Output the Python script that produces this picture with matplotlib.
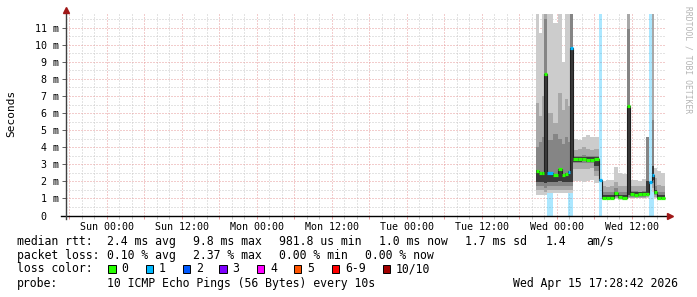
import numpy as np
import matplotlib
matplotlib.use("Agg")
import matplotlib.pyplot as plt
from matplotlib.patches import Rectangle

MONO = "DejaVu Sans Mono"

# bin edges, hours since Sun 00:00
edges = [68.67, 69.15, 69.63, 69.95, 70.35, 71.39, 72.19, 72.83, 73.31, 73.79,
         74.11, 74.51, 75.39, 76.03, 76.67, 77.31, 77.95, 78.75, 79.23, 79.87,
         80.51, 81.15, 81.79, 82.43, 83.23, 83.71, 84.35, 84.99, 85.63, 86.19,
         86.67, 87.15, 87.55, 88.03, 88.67, 89.31]

nan = np.nan
# smoke bands in ms (outer -> inner)
outer_lo = [1.2, 1.2, 1.2, 1.2, 1.3, 1.3, 1.3, 1.3, 1.3, 1.3, 1.3, 2.0, 2.0, 1.95, 2.0, 2.05, 1.9, nan,
            0.9, 0.9, 0.9, 0.95, 0.9, 0.9, 1.0, 1.0, 1.0, 1.0, 1.0, 1.0, nan, 1.4, 1.0, 0.9, 0.9]
outer_hi = [11.8, 10.7, 11.8, 11.8, 11.8, 11.3, 11.8, 9.0, 11.8, 11.8, 11.8, 4.5, 4.4, 4.6, 4.7, 4.6, 4.6, nan,
            2.0, 2.1, 2.05, 2.85, 2.5, 2.45, 11.8, 2.1, 2.05, 2.0, 2.15, 4.6, nan, 11.8, 2.8, 2.6, 2.5]
mid_lo = [1.5, 1.5, 1.5, 1.4, 1.5, 1.5, 1.5, 1.5, 1.5, 1.5, 1.5, 2.75, 2.75, 2.7, 2.75, 2.8, 2.3, nan,
          0.95, 0.95, 0.95, 1.0, 0.95, 0.95, 1.0, 1.05, 1.05, 1.05, 1.05, 1.1, nan, 1.6, 1.1, 0.95, 0.95]
mid_hi = [6.6, 5.8, 7.0, 11.8, 6.0, 5.4, 7.2, 6.2, 6.8, 6.4, 11.8, 3.85, 3.9, 4.0, 3.9, 3.85, 3.9, nan,
          1.7, 1.65, 1.7, 1.95, 1.75, 1.7, 11.8, 1.75, 1.7, 1.7, 1.75, 4.6, nan, 11.8, 2.2, 1.8, 1.75]
inner_lo = [1.7, 1.7, 1.75, 1.6, 1.7, 1.75, 1.75, 1.75, 1.75, 1.75, 1.75, 3.05, 3.05, 3.1, 3.05, 3.05, 2.6, nan,
            1.0, 1.0, 1.0, 1.1, 1.0, 1.0, 1.1, 1.1, 1.1, 1.1, 1.1, 1.2, nan, 1.9, 1.2, 1.0, 1.0]
inner_hi = [4.0, 4.3, 4.6, 11.5, 4.4, 4.8, 4.5, 4.2, 4.6, 4.3, 11.8, 3.5, 3.5, 3.55, 3.5, 3.5, 3.5, nan,
            1.4, 1.35, 1.4, 1.6, 1.4, 1.4, 10.9, 1.45, 1.45, 1.4, 1.45, 4.6, nan, 5.6, 1.7, 1.4, 1.35]
core_lo = [1.95, 1.95, 1.95, 1.9, 1.95, 1.95, 2.0, 1.95, 1.95, 1.95, 1.95, 3.15, 3.15, 3.2, 3.15, 3.15, 2.9, nan,
           1.0, 1.0, 1.0, 1.15, 1.0, 1.0, 1.2, 1.15, 1.15, 1.15, 1.15, 1.3, nan, 2.1, 1.25, 1.0, 1.0]
core_hi = [2.65, 2.55, 2.55, 8.3, 2.55, 2.4, 2.75, 2.45, 2.5, 2.6, 9.8, 3.4, 3.4, 3.45, 3.4, 3.4, 3.4, nan,
           1.2, 1.2, 1.2, 1.4, 1.2, 1.2, 6.4, 1.35, 1.35, 1.35, 1.35, 2.0, nan, 2.9, 1.5, 1.2, 1.2]

median = [2.6, 2.5, 2.5, 8.3, 2.5, 2.35, 2.7, 2.4, 2.45, 2.55, 9.8, 3.3, 3.3, 3.3, 3.25, 3.25, 3.3, 2.05,
          1.0, 1.0, 1.05, 1.3, 1.1, 1.05, 6.4, 1.25, 1.2, 1.25, 1.25, 1.25, 1.95, 2.35, 1.35, 1.05, 1.0]
loss = [0, 0, 0, 0, 1, 0, 0, 0, 0, 1, 1, 0, 0, 0, 0, 0, 0, 1,
        0, 0, 0, 0, 0, 0, 0, 0, 0, 0, 0, 0, 1, 1, 0, 0, 0]

loss_labels = ["0", "1", "2", "3", "4", "5", "6-9", "10/10"]
loss_colors = ["#26ff00", "#00b8ff", "#0059ff", "#7e00ff", "#ff00ff", "#ff5500", "#ff0000", "#a10000"]

x_ticks = [0, 12, 24, 36, 48, 60, 72, 84]
x_labels = ["Sun 00:00", "Sun 12:00", "Mon 00:00", "Mon 12:00",
            "Tue 00:00", "Tue 12:00", "Wed 00:00", "Wed 12:00"]
y_ticks = list(range(12))
y_labels = ["0"] + [f"{v} m" for v in range(1, 12)]

stats_rtt = ["2.4 ms avg", "9.8 ms max", "981.8 us min", "1.0 ms now", "1.7 ms sd", "1.4", "am/s"]
stats_loss = ["0.10 % avg", "2.37 % max", "0.00 % min", "0.00 % now"]
probe = "10 ICMP Echo Pings (56 Bytes) every 10s"
stamp = "Wed Apr 15 17:28:42 2026"

W, H = 697, 297
fig = plt.figure(figsize=(W / 100, H / 100), dpi=100)
ax = fig.add_axes([66 / W, 1 - 215.5 / H, 600 / W, 201.5 / H])
ax.set_xlim(-6.53, 89.47)
ax.set_ylim(0, 11.8)

e = np.array(edges)
starts, widths = e[:-1], np.diff(e)

# loss background
for s, w, l in zip(starts, widths, loss):
    if l > 0:
        ax.axvspan(s, s + w, color=loss_colors[l], alpha=0.33, lw=0, zorder=1)

bands = [(outer_lo, outer_hi, "#cccccc"), (mid_lo, mid_hi, "#a8a8a8"),
         (inner_lo, inner_hi, "#858585"), (core_lo, core_hi, "#3a3a3a")]
for lo, hi, c in bands:
    lo = np.array(lo); hi = np.array(hi)
    ax.bar(starts, hi - lo, bottom=lo, width=widths, align="edge", color=c, lw=0, zorder=2)

ax.stairs(median, e, baseline=None, color="#202020", lw=0.8, zorder=3)
ax.hlines(median, starts, e[1:], colors=[loss_colors[l] for l in loss], lw=2.3, zorder=4)

# grid
ax.set_xticks(np.arange(-6, 90, 6))
ax.set_xticks(np.arange(-6, 90, 2), minor=True)
ax.set_yticks(y_ticks)
ax.set_yticks(np.arange(0, 11.8, 0.5), minor=True)
ax.grid(which="minor", color="#c8c8c8", ls=(0, (1, 2)), lw=0.72, zorder=0)
ax.grid(which="major", color="#e69a9a", ls=(0, (1, 2)), lw=0.72, zorder=0)
ax.set_axisbelow(True)
ax.set_xticklabels([x_labels[x_ticks.index(t)] if t in x_ticks else "" for t in np.arange(-6, 90, 6)],
                   family=MONO, fontsize=7.2)
ax.set_yticklabels(["0\u00a0\u00a0"] + y_labels[1:], family=MONO, fontsize=7.2)
ax.tick_params(axis="x", which="major", length=2.5, width=0.7, color="#e69a9a", pad=2)
ax.tick_params(axis="x", which="minor", length=2, width=0.7, color="#c0c0c0")
ax.tick_params(axis="y", which="major", length=3, width=0.7, color="#606060", pad=2)
ax.tick_params(axis="y", which="minor", length=0)
for sp in ax.spines.values():
    sp.set_visible(False)

# axes with arrows
ax.plot([-0.008, 1.006], [0, 0], transform=ax.transAxes, color="black", lw=1, clip_on=False, zorder=5)
ax.plot([0, 0], [-0.015, 1.02], transform=ax.transAxes, color="#404040", lw=1, clip_on=False, zorder=5)
ax.plot([1.007], [0], ">", transform=ax.transAxes, color="#a01818", ms=4, clip_on=False, zorder=6)
ax.plot([0], [1.022], "^", transform=ax.transAxes, color="#a01818", ms=4, clip_on=False, zorder=6)

fig.text(11 / W, 1 - 113 / H, "Seconds", rotation=90, va="center", ha="center", family=MONO, fontsize=8)
fig.text(688 / W, 1 - 60 / H, "RRDTOOL / TOBI OETIKER", rotation=270, va="center", ha="center",
         family=MONO, fontsize=5.8, color="#b4b4b4")

fs = 8.3
def txt(x, y, s):
    fig.text(x / W, 1 - y / H, s, va="center", ha="left", family=MONO, fontsize=fs, color="black")

txt(16.7, 241.5, "median rtt:")
for x, s in zip([107.3, 193.3, 279.3, 379, 465, 546, 586.7], stats_rtt):
    txt(x, 241.5, s)
txt(16.7, 255.3, "packet loss:")
for x, s in zip([107.3, 193.3, 279.3, 365], stats_loss):
    txt(x, 255.3, s)
txt(16.7, 269, "loss color:")
box_x = [108.3, 145.7, 182.7, 219.3, 256.7, 294, 331.7, 382.7]
for bx, lab, c in zip(box_x, loss_labels, loss_colors):
    fig.patches.append(Rectangle((bx / W, 1 - 272.6 / H), 7.2 / W, 7.2 / H, transform=fig.transFigure,
                                 facecolor=c, edgecolor="black", lw=0.7))
    txt(bx + 13.4, 269, lab)
txt(16.7, 283.3, "probe:")
txt(107.3, 283.3, probe)
txt(513.3, 283.3, stamp)

fig.savefig("out.png", dpi=100, facecolor="white")
